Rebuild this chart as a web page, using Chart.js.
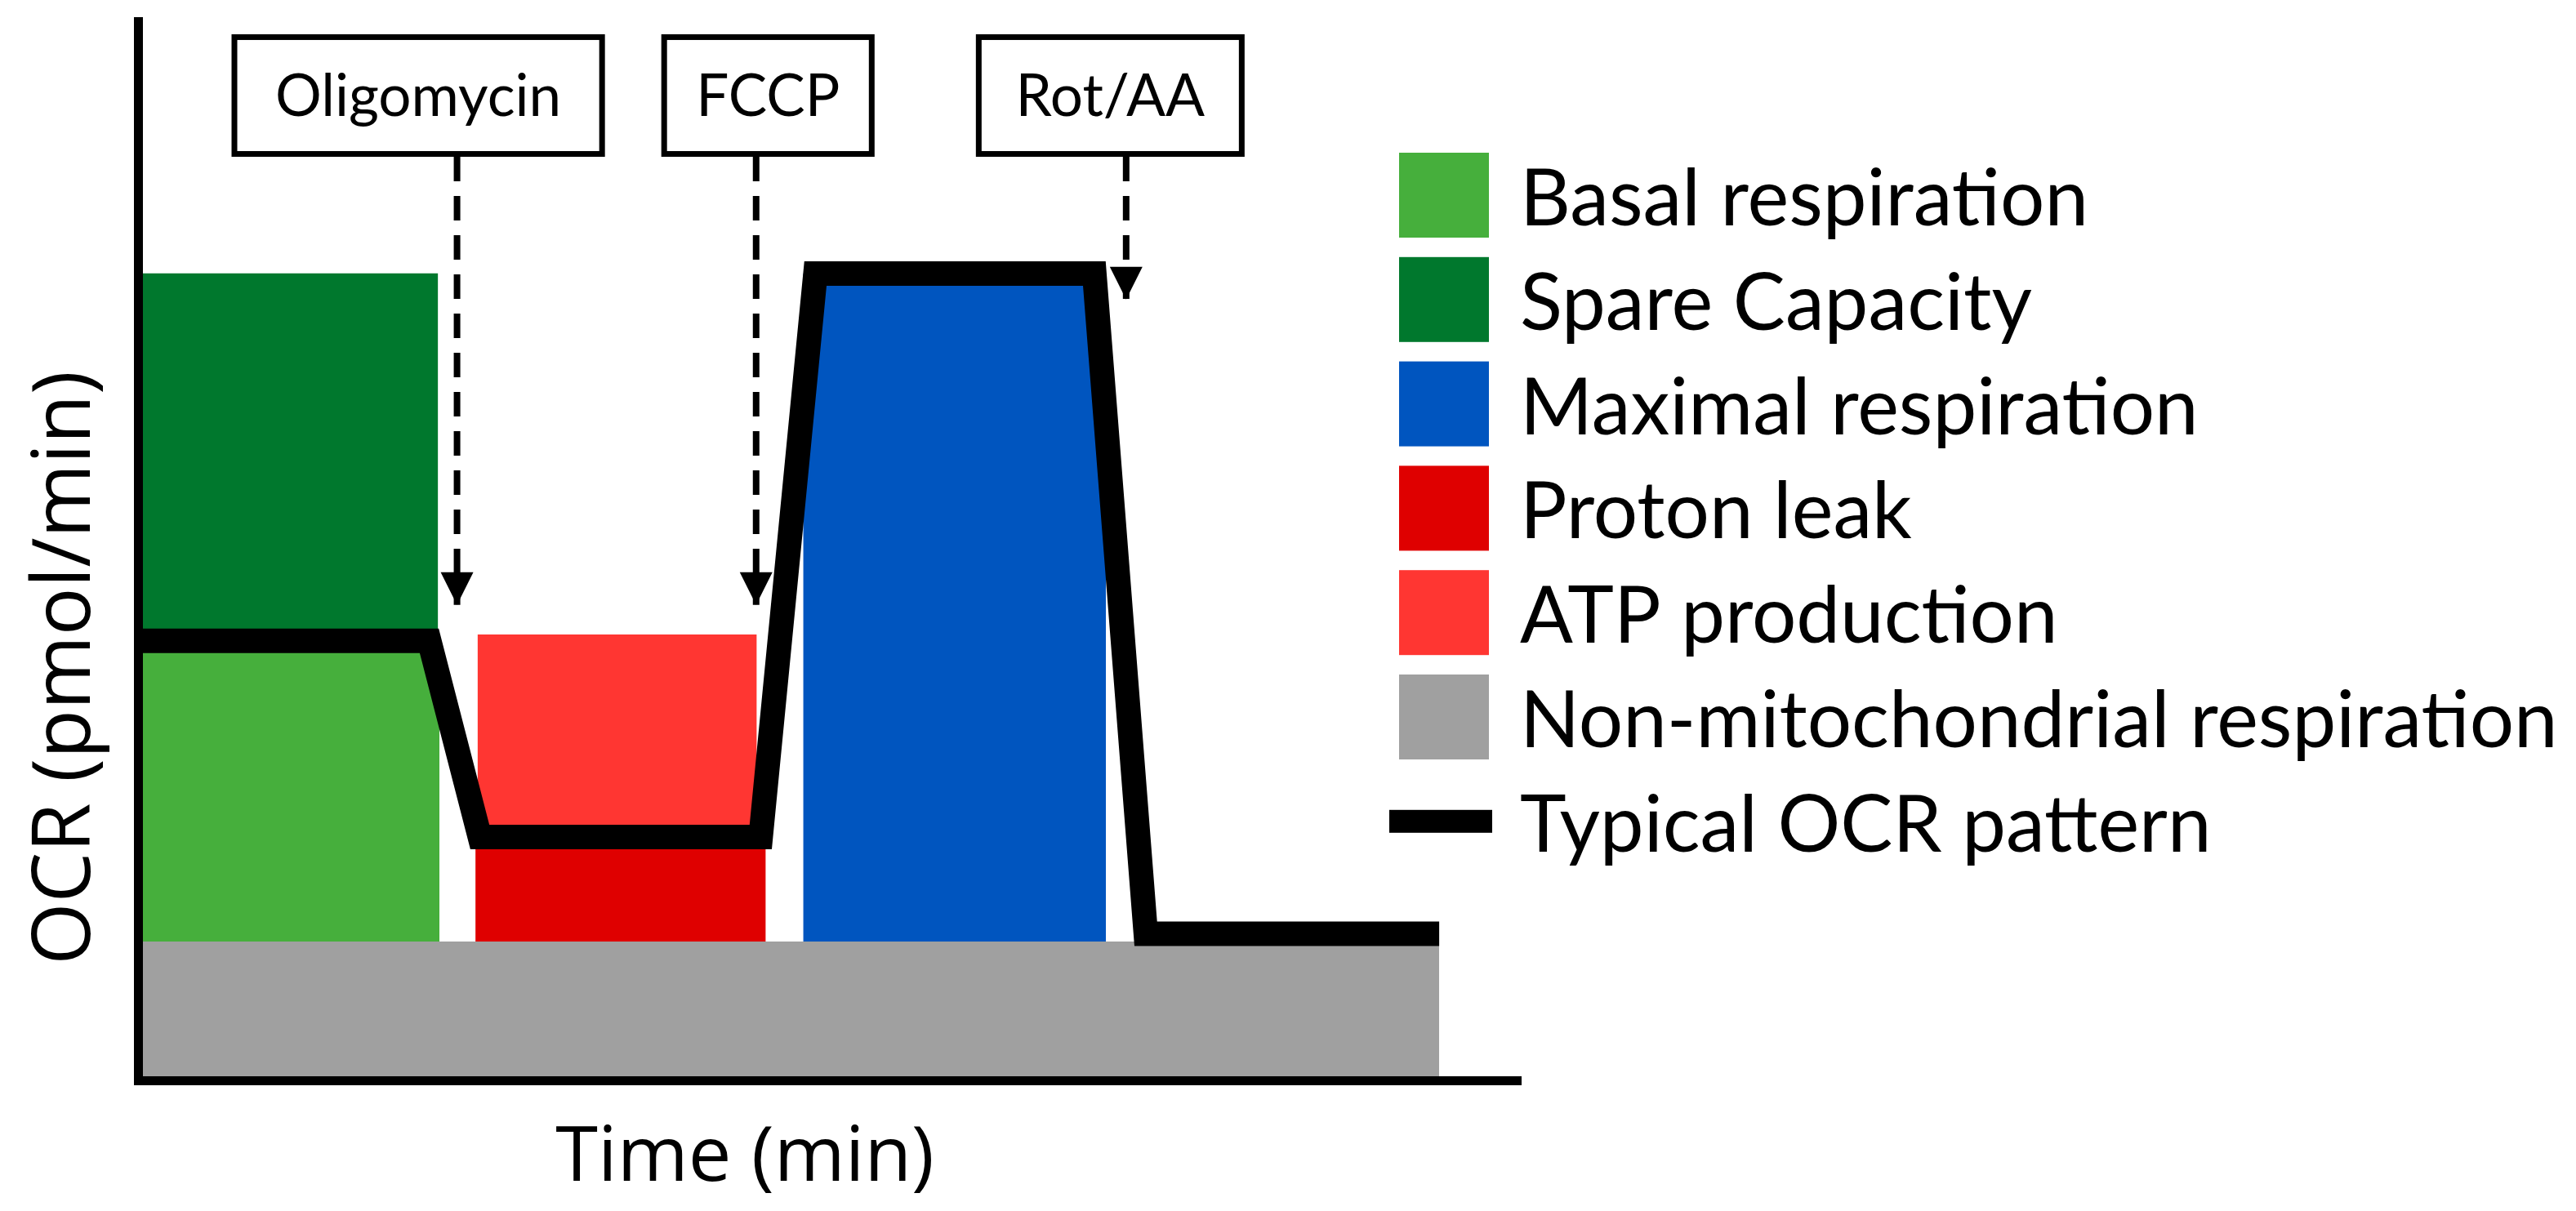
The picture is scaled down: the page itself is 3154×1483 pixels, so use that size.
<!DOCTYPE html>
<html>
<head>
<meta charset="utf-8">
<script src="https://cdn.jsdelivr.net/npm/chart.js@4.4.1/dist/chart.umd.min.js"></script>
<style>
  html, body { margin: 0; padding: 0; background: #fff; }
  #wrap { width: 3154px; height: 1483px; }
</style>
</head>
<body>
<div id="wrap"><canvas id="ocr" width="3154" height="1483"></canvas></div>
<script>
// Schematic units: time 0-100 across the axis, OCR 0-100 up the axis

// Coloured regions (start/end time, bottom/top OCR)
const regionNames = ['Basal respiration', 'Spare Capacity', 'Maximal respiration', 'Proton leak', 'ATP production', 'Non-mitochondrial respiration']
const regionColors = ['#46AF3C', '#00782D', '#0055BF', '#DF0000', '#FF3632', '#A0A0A0']
const regionStart = [0, 0, 48.1, 24.4, 24.55, 0]
const regionEnd = [21.8, 21.7, 70.0, 45.4, 44.75, 94.1]
const regionBottom = [13.1, 41.5, 13.1, 13.1, 22.97, 0]
const regionTop = [41.5, 76.2, 76.18, 22.97, 42.1, 13.1]

// Typical OCR trace
const ocrLabel = 'Typical OCR pattern'
const ocrTimes = [0, 21.06, 24.72, 45.03, 48.99, 69.16, 72.88, 94.1]
const ocrValues = [41.5, 41.5, 22.97, 22.97, 76.18, 76.18, 13.83, 13.83]

// Injections
const injections = ['Oligomycin', 'FCCP', 'Rot/AA']
const injectionTimes = [23.07, 44.70, 71.46]
const arrowTips = [44.9, 44.9, 73.72]
const arrowStart = 87.2

// label boxes above the injections (layout only)
const boxSpans = [[6.97, 33.56], [38.05, 53.06], [60.8, 79.82]]
const boxTop = 98.5
const boxBottom = 87.47

const calibriLike = 'Lato, "Open Sans", sans-serif'
const squeeze = 1.0

const datasets = []

// OCR line on top
datasets.push({
  label: ocrLabel,
  data: ocrTimes.map((t, i) => ({ x: t, y: ocrValues[i] })),
  borderColor: '#000',
  borderWidth: 30,
  borderJoinStyle: 'miter',
  borderCapStyle: 'butt',
  tension: 0,
  pointRadius: 0,
  fill: false,
  order: 1
})

// dashed injection shafts
injections.forEach((name, i) => {
  datasets.push({
    label: name,
    data: [{ x: injectionTimes[i], y: arrowStart }, { x: injectionTimes[i], y: arrowTips[i] }],
    borderColor: '#000',
    borderWidth: 8,
    borderDash: [30, 18],
    borderCapStyle: 'butt',
    pointRadius: 0,
    fill: false,
    order: 0
  })
})

// filled blocks, drawn as flat lines filled down to their base value
regionNames.forEach((name, i) => {
  datasets.push({
    label: name,
    data: [{ x: regionStart[i], y: regionTop[i] }, { x: regionEnd[i], y: regionTop[i] }],
    borderWidth: 0,
    borderColor: 'rgba(0,0,0,0)',
    backgroundColor: regionColors[i],
    pointRadius: 0,
    fill: { value: regionBottom[i] },
    order: name === 'Non-mitochondrial respiration' ? 3 : 2
  })
})

function drawText(ctx, text, px, py, font, align, sx) {
  ctx.save()
  ctx.translate(px, py)
  ctx.scale(sx, 1)
  ctx.font = font
  ctx.textAlign = align
  ctx.textBaseline = 'alphabetic'
  ctx.fillStyle = '#000'
  ctx.fillText(text, 0, 0)
  ctx.restore()
}

const schematic = {
  id: 'schematic',
  afterDatasetsDraw(chart) {
    const { ctx, scales: { x, y } } = chart
    ctx.save()
    injections.forEach((name, i) => {
      // arrow head
      const tipX = x.getPixelForValue(injectionTimes[i])
      const tipY = y.getPixelForValue(arrowTips[i])
      ctx.beginPath()
      ctx.moveTo(tipX, tipY)
      ctx.lineTo(tipX - 20, tipY - 40)
      ctx.lineTo(tipX + 20, tipY - 40)
      ctx.closePath()
      ctx.fillStyle = '#000'
      ctx.fill()

      // box with the compound name
      const left = x.getPixelForValue(boxSpans[i][0])
      const right = x.getPixelForValue(boxSpans[i][1])
      const top = y.getPixelForValue(boxTop)
      const bottom = y.getPixelForValue(boxBottom)
      ctx.fillStyle = '#fff'
      ctx.fillRect(left, top, right - left, bottom - top)
      ctx.lineWidth = 7
      ctx.strokeStyle = '#000'
      ctx.strokeRect(left, top, right - left, bottom - top)
      drawText(ctx, name, (left + right) / 2, (top + bottom) / 2 + 25, '71px ' + calibriLike, 'center', squeeze)
    })
    ctx.restore()
  },
  afterDraw(chart) {
    const ctx = chart.ctx
    ctx.save()
    // legend
    const rowTop = 187, rowStep = 127.8
    regionNames.forEach((name, i) => {
      const top = rowTop + i * rowStep
      ctx.fillStyle = regionColors[i]
      ctx.fillRect(1713, top, 110, 104)
      drawText(ctx, name, 1861, top + 89, '96px ' + calibriLike, 'left', squeeze)
    })
    const lineRow = rowTop + regionNames.length * rowStep
    ctx.fillStyle = '#000'
    ctx.fillRect(1701, lineRow + 52 - 14, 126, 28)
    drawText(ctx, ocrLabel, 1861, lineRow + 89, '96px ' + calibriLike, 'left', squeeze)

    // axis titles
    drawText(ctx, 'Time (min)', 912, 1446, '94px "Open Sans", sans-serif', 'center', 1)
    ctx.translate(110, 818)
    ctx.rotate(-Math.PI / 2)
    drawText(ctx, 'OCR (pmol/min)', 0, 0, '98px "Open Sans", sans-serif', 'center', 1)
    ctx.restore()
  }
}

new Chart(document.getElementById('ocr').getContext('2d'), {
  type: 'line',
  data: { datasets: datasets },
  options: {
    responsive: false,
    animation: false,
    devicePixelRatio: 1,
    layout: { padding: { left: 169, right: 1292, top: 26, bottom: 160 } },
    plugins: {
      legend: { display: false },
      tooltip: { enabled: false },
      filler: { propagate: false }
    },
    scales: {
      x: {
        type: 'linear',
        min: 0,
        max: 100,
        grid: { display: false, drawTicks: false },
        ticks: { display: false },
        border: { display: true, color: '#000', width: 11, z: 1 },
        afterFit: s => { s.height = 0 }
      },
      y: {
        type: 'linear',
        min: 0,
        max: 100,
        grid: { display: false, drawTicks: false },
        ticks: { display: false },
        border: { display: true, color: '#000', width: 11, z: 1 },
        afterFit: s => { s.width = 0 }
      }
    }
  },
  plugins: [schematic]
})
</script>
</body>
</html>
